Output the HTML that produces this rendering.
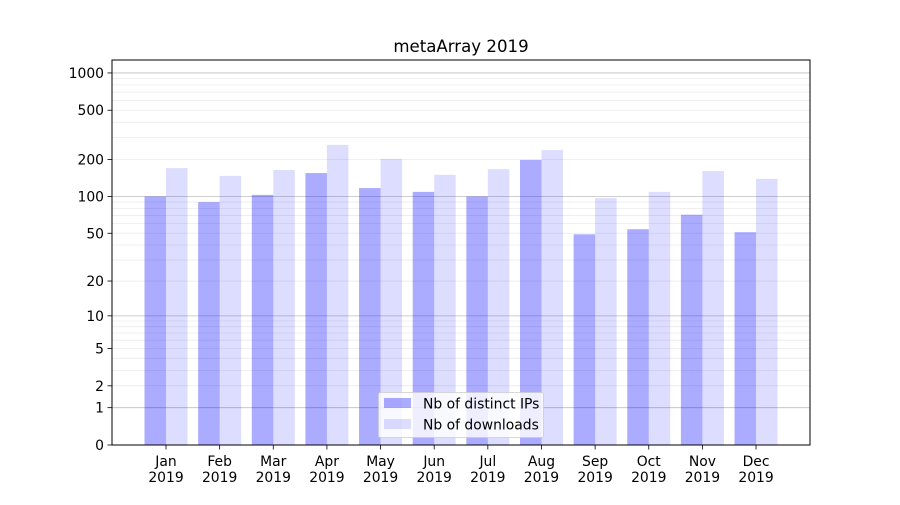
<!DOCTYPE html><html><head><style>body{margin:0;background:#fff}svg{font-family:"DejaVu Sans","Liberation Sans",sans-serif}</style></head><body>
<svg id="s" width="900" height="500" xmlns="http://www.w3.org/2000/svg"></svg>
<script>
var s=document.getElementById('s'),h='';
function Y(v){return 445-124*Math.log10(v+1);}
var minors=[];for(var d=1;d<=100;d*=10)for(var k=2;k<=9;k++)minors.push(k*d);
minors.forEach(function(v){var y=Y(v);h+='<line x1="112" x2="810" y1="'+y+'" y2="'+y+'" stroke="#ebebeb" stroke-width="0.8"/>';});
[1,10,100,1000].forEach(function(v){var y=Y(v);h+='<line x1="112" x2="810" y1="'+y+'" y2="'+y+'" stroke="#bfbfbf" stroke-width="0.8"/>';});
var ip=[100,90,103,155,117,109,100,198,49,54,71,51];
var dl=[170,147,164,262,202,150,167,238,97,109,161,139];
var m=['Jan','Feb','Mar','Apr','May','Jun','Jul','Aug','Sep','Oct','Nov','Dec'];
for(var i=0;i<12;i++){var c=166+i*53.64;
var y1=Y(ip[i]),y2=Y(dl[i]);
h+='<rect x="'+(c-21.5)+'" y="'+y1+'" width="21.5" height="'+(445-y1)+'" fill="#0000ff" fill-opacity="0.33"/>';
h+='<rect x="'+c+'" y="'+y2+'" width="21.5" height="'+(445-y2)+'" fill="#0000ff" fill-opacity="0.135"/>';
h+='<line x1="'+c+'" x2="'+c+'" y1="445" y2="449.5" stroke="#000" stroke-width="0.8"/>';
h+='<text x="'+c+'" y="466" font-size="13.9" text-anchor="middle">'+m[i]+'</text><text x="'+c+'" y="482" font-size="13.9" text-anchor="middle">2019</text>';}
[0,1,2,5,10,20,50,100,200,500,1000].forEach(function(v){var y=Y(v);h+='<line x1="107.5" x2="112" y1="'+y+'" y2="'+y+'" stroke="#000" stroke-width="0.8"/><text x="104" y="'+(y+5)+'" font-size="13.9" text-anchor="end">'+v+'</text>';});
h+='<rect x="112" y="60" width="698" height="385" fill="none" stroke="#000" stroke-width="1"/>';
h+='<text x="461" y="52" font-size="16.6" text-anchor="middle">metaArray 2019</text>';
h+='<rect x="378.5" y="392.5" width="165" height="45" rx="2" fill="#fff" fill-opacity="0.8" stroke="#ccc" stroke-width="0.8"/>';
h+='<rect x="384" y="398" width="27" height="10" fill="#0000ff" fill-opacity="0.33"/><text x="423" y="408.5" font-size="13.9">Nb of distinct IPs</text>';
h+='<rect x="384" y="419" width="27" height="10" fill="#0000ff" fill-opacity="0.135"/><text x="423" y="429.5" font-size="13.9">Nb of downloads</text>';
s.innerHTML=h;
</script></body></html>
